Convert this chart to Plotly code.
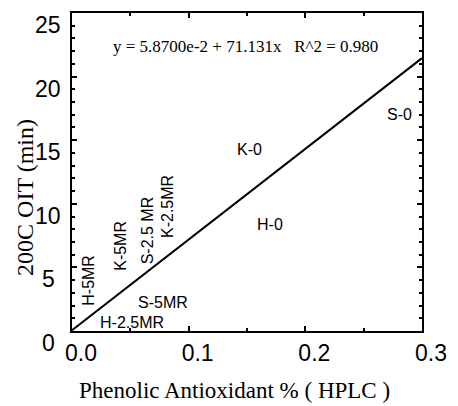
import plotly.graph_objects as go

# Fitted regression line end points
line_x = [0.0, 0.3]
line_y = [0.06, 21.45]

# Sample labels (plotted as text markers)
labels = ["S-0", "K-0", "H-0", "S-5MR", "H-2.5MR", "H-5MR", "K-5MR", "S-2.5 MR", "K-2.5MR"]
label_x = [0.281, 0.152, 0.170, 0.078, 0.051, 0.0134, 0.042, 0.065, 0.082]
label_y = [17.0, 14.3, 8.4, 2.27, 0.63, 4.0, 6.7, 7.9, 9.8]
label_angle = [0, 0, 0, 0, 0, -90, -90, -90, -90]

x_ticks = [0.0, 0.1, 0.2, 0.3]
x_tick_labels = ["0.0", "0.1", "0.2", "0.3"]
y_ticks = [0, 5, 10, 15, 20, 25]
y_tick_labels = ["0", "5", "10", "15", "20", "25"]

equation = "y = 5.8700e-2 + 71.131x   R^2 = 0.980"
x_title = "Phenolic Antioxidant % ( HPLC )"
y_title = "200C OIT (min)"

SANS = "Liberation Sans, Arial, sans-serif"
SERIF = "Liberation Serif, Times New Roman, serif"

fig = go.Figure()
fig.add_trace(go.Scatter(x=line_x, y=line_y, mode="lines",
                         line=dict(color="black", width=2), showlegend=False,
                         hoverinfo="skip"))

annotations = []
for t, x, y, a in zip(labels, label_x, label_y, label_angle):
    annotations.append(dict(x=x, y=y, xref="x", yref="y", text=t, showarrow=False,
                            textangle=a, font=dict(family=SANS, size=16, color="black")))

for v, t in zip(y_ticks, y_tick_labels):
    annotations.append(dict(x=0, y=v, xref="paper", yref="y", text=t, showarrow=False,
                            xanchor="center", yanchor="middle", xshift=-24, yshift=-12,
                            font=dict(family=SANS, size=23, color="black")))

annotations.append(dict(x=0.1485, y=22.4, xref="x", yref="y", text=equation, showarrow=False,
                        font=dict(family=SERIF, size=17, color="black")))
annotations.append(dict(x=(238 - 72) / 358, y=-(391 - 331) / 320, xref="paper", yref="paper",
                        text=x_title, showarrow=False, xanchor="center", yanchor="middle",
                        font=dict(family=SERIF, size=23, color="black")))
annotations.append(dict(x=-(72 - 24) / 358, y=(331 - 197) / 320, xref="paper", yref="paper",
                        text=y_title, showarrow=False, xanchor="center", yanchor="middle",
                        textangle=-90, font=dict(family=SERIF, size=24, color="black")))
fig.update_layout(annotations=annotations)

fig.update_xaxes(range=[0, 0.3], tickvals=x_ticks, ticktext=x_tick_labels,
                 ticks="inside", ticklen=5, tickwidth=1.5, tickcolor="black",
                 minor=dict(dtick=0.05, ticks="inside", ticklen=3, tickcolor="black"),
                 showline=True, linecolor="black", linewidth=2, mirror="ticks",
                 showgrid=False, zeroline=False, ticklabelshift=9,
                 tickfont=dict(family=SANS, size=23, color="black"))
fig.update_yaxes(range=[0, 25], tickvals=y_ticks, showticklabels=False,
                 ticks="inside", ticklen=5, tickwidth=1.5, tickcolor="black",
                 minor=dict(dtick=1, ticks="inside", ticklen=3, tickcolor="black"),
                 showline=True, linecolor="black", linewidth=2, mirror="ticks",
                 showgrid=False, zeroline=False)

fig.update_layout(width=458, height=406, margin=dict(l=72, r=28, t=11, b=75),
                  plot_bgcolor="white", paper_bgcolor="white")
fig.write_html("out.html")
